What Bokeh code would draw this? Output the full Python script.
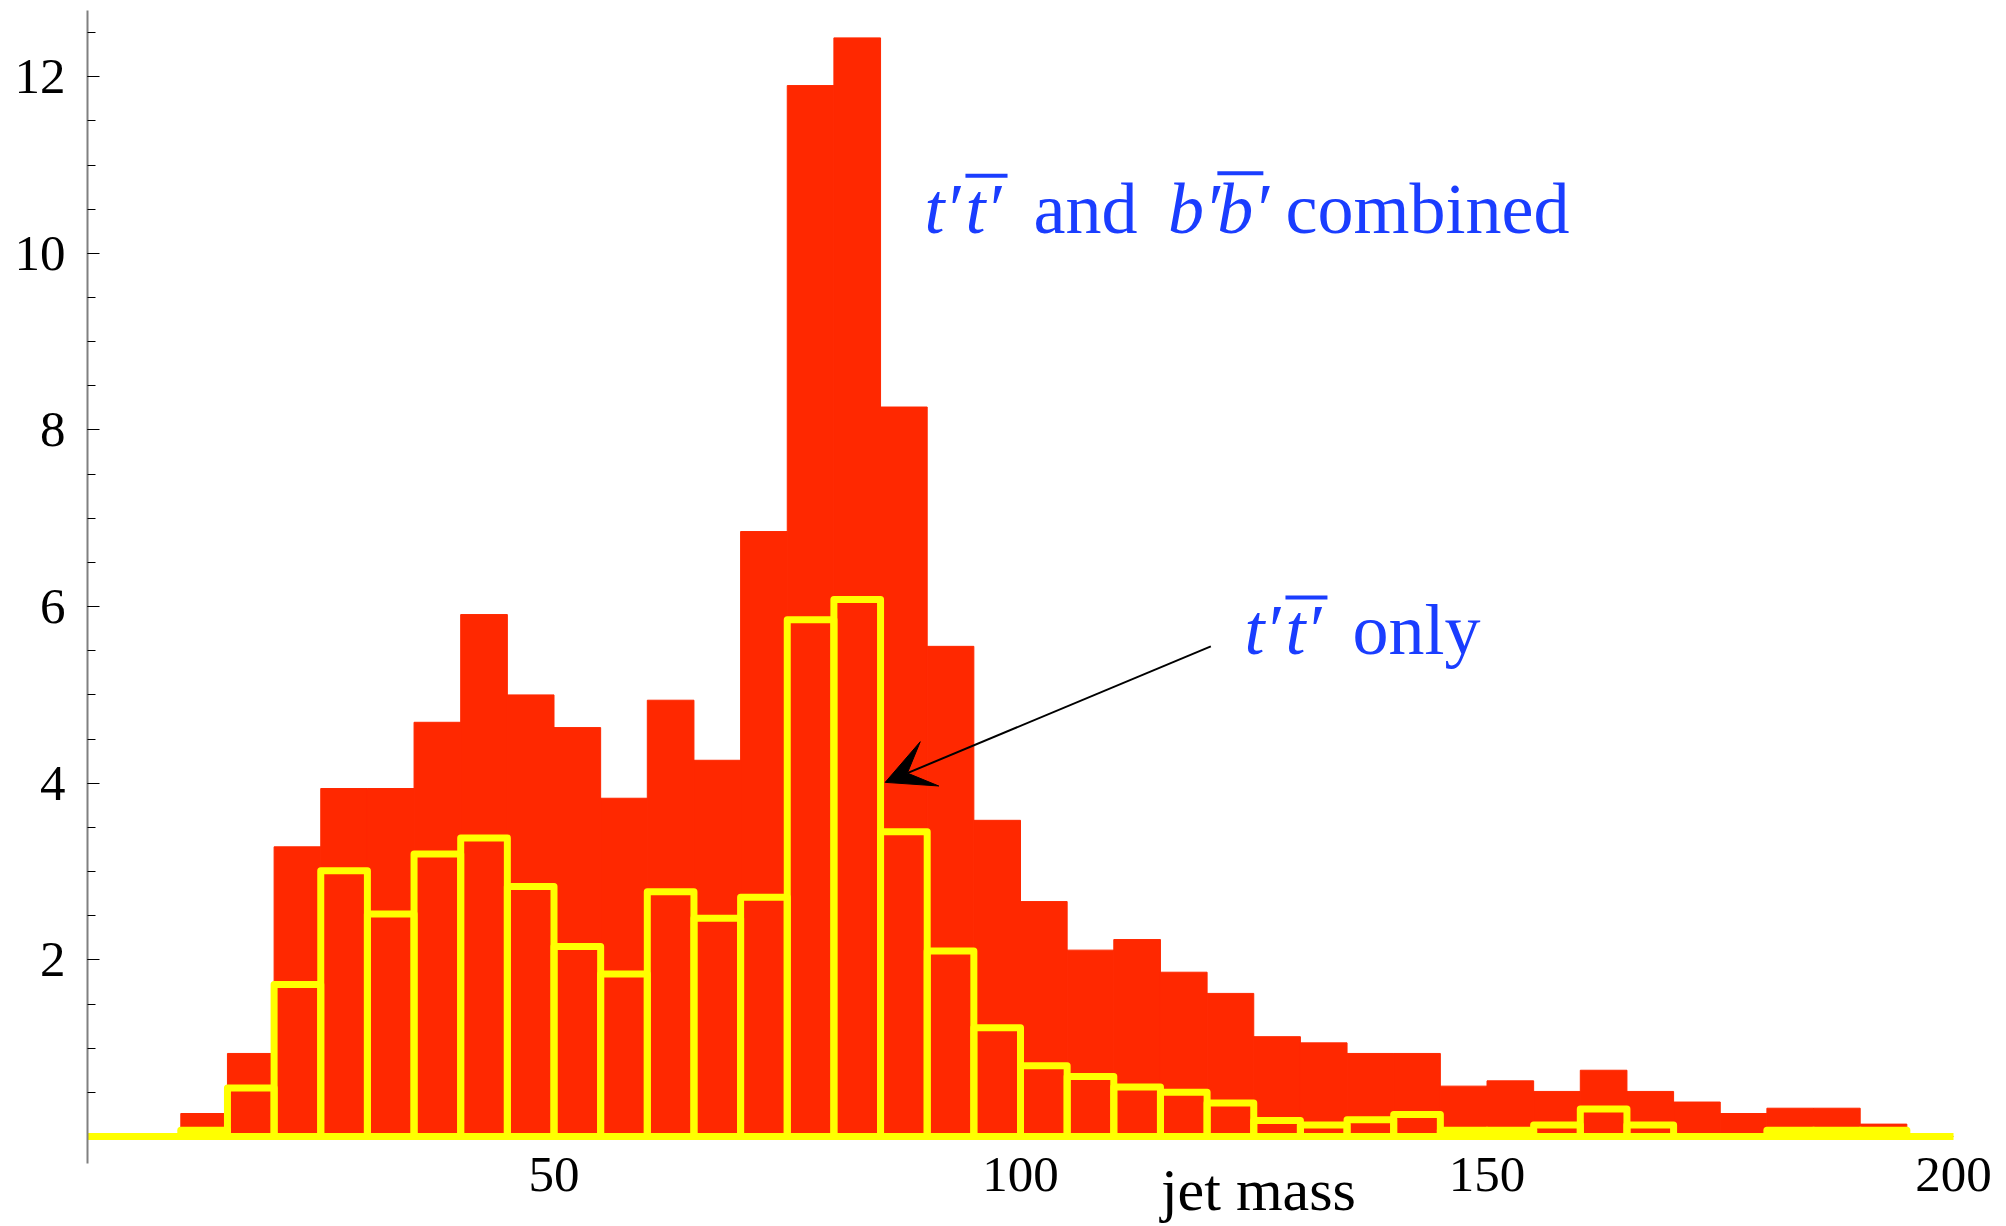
from bokeh.plotting import figure
from bokeh.models import Label, Arrow, VeeHead, FixedTicker, Range1d, LinearAxis
from bokeh.embed import file_html
from bokeh.resources import INLINE

# ---- data ----
bin_edges = [0, 5, 10, 15, 20, 25, 30, 35, 40, 45, 50, 55, 60, 65, 70, 75, 80, 85, 90, 95,
             100, 105, 110, 115, 120, 125, 130, 135, 140, 145, 150, 155, 160, 165, 170, 175,
             180, 185, 190, 195, 200]
combined = [0, 0, 0.26, 0.94, 3.28, 3.94, 3.94, 4.69, 5.91, 5.00,
            4.63, 3.83, 4.94, 4.26, 6.85, 11.90, 12.44, 8.26, 5.55, 3.58,
            2.66, 2.11, 2.23, 1.86, 1.62, 1.13, 1.06, 0.94, 0.94, 0.57,
            0.63, 0.51, 0.75, 0.51, 0.39, 0.26, 0.32, 0.32, 0.14, 0]
tt_only = [0, 0, 0.07, 0.55, 1.72, 3.01, 2.52, 3.20, 3.38, 2.83,
           2.15, 1.84, 2.77, 2.47, 2.71, 5.85, 6.08, 3.45, 2.10, 1.23,
           0.80, 0.68, 0.56, 0.50, 0.38, 0.18, 0.13, 0.19, 0.25, 0.07,
           0.07, 0.13, 0.31, 0.13, 0.0, 0, 0.07, 0.07, 0.07, 0]
x_ticks = [50, 100, 150, 200]
y_ticks = [2, 4, 6, 8, 10, 12]
y_minor = [0.5, 1, 1.5, 2, 2.5, 3, 3.5, 4, 4.5, 5, 5.5, 6, 6.5, 7, 7.5, 8, 8.5, 9, 9.5,
           10, 10.5, 11, 11.5, 12, 12.5]
x_title = "jet mass"
x_title_pos = 125.5

lefts = bin_edges[:-1]
rights = bin_edges[1:]

RED = "#ff2800"
YELLOW = "#ffff00"
BLUE = "#1a3dff"
SERIF = "Liberation Serif"

p = figure(width=2006, height=1226, output_backend="svg", toolbar_location=None,
           x_range=Range1d(0, 200), y_range=Range1d(-0.306, 12.75),
           min_border_left=87, min_border_right=53, min_border_top=10, min_border_bottom=63)
p.grid.visible = False
p.outline_line_color = None
p.background_fill_color = "white"
p.border_fill_color = "white"

# y axis
p.yaxis.ticker = FixedTicker(ticks=y_ticks, minor_ticks=y_minor)
p.yaxis.axis_line_color = "#808080"
p.yaxis.axis_line_width = 2
p.yaxis.major_tick_line_color = "black"
p.yaxis.minor_tick_line_color = "black"
p.yaxis.major_tick_in = 12
p.yaxis.major_tick_out = 0
p.yaxis.minor_tick_in = 8
p.yaxis.minor_tick_out = 0
p.yaxis.major_label_text_font = SERIF
p.yaxis.major_label_text_font_size = "51px"
p.yaxis.major_label_text_color = "black"
p.yaxis.major_label_standoff = 22

# x axis
p.xaxis.ticker = FixedTicker(ticks=x_ticks, minor_ticks=[])
p.xaxis.axis_line_color = None
p.xaxis.major_tick_line_color = None
p.xaxis.minor_tick_line_color = None
p.xaxis.major_label_text_font = SERIF
p.xaxis.major_label_text_font_size = "51px"
p.xaxis.major_label_text_color = "black"
p.xaxis.major_label_standoff = -12

# second bottom axis only carrying the "jet mass" title
title_axis = LinearAxis(ticker=FixedTicker(ticks=[x_title_pos], minor_ticks=[]),
                        major_label_overrides={x_title_pos: x_title})
title_axis.axis_line_color = None
title_axis.major_tick_line_color = None
title_axis.minor_tick_line_color = None
title_axis.major_label_text_font = SERIF
title_axis.major_label_text_font_size = "60px"
title_axis.major_label_text_color = "black"
title_axis.major_label_standoff = -43
p.add_layout(title_axis, "below")

# histograms
p.quad(left=lefts, right=rights, bottom=0, top=combined,
       fill_color=RED, line_color=RED, line_width=1)
p.quad(left=lefts, right=rights, bottom=0, top=tt_only,
       fill_color=None, line_color=YELLOW, line_width=7, line_join="round")

# annotations
def piece(x, y, t, italic):
    p.add_layout(Label(x=x, y=y, text=t, text_font=SERIF, text_font_size="72px",
                       text_color=BLUE, text_baseline="alphabetic", text_align="left",
                       text_font_style="italic" if italic else "normal"))

y1 = 10.505
piece(89.71, y1, "t\u2032", True)
piece(94.10, y1, "t\u2032", True)
piece(101.39, y1, "and", False)
piece(115.80, y1, "b\u2032", True)
piece(121.10, y1, "b\u2032", True)
piece(128.40, y1, "combined", False)

y2 = 5.737
piece(124.01, y2, "t\u2032", True)
piece(128.40, y2, "t\u2032", True)
piece(135.58, y2, "only", False)

p.segment(x0=[94.10, 121.10, 128.40], x1=[98.61, 126.03, 132.90],
          y0=[10.88, 10.906, 6.104], y1=[10.88, 10.906, 6.104],
          line_color=BLUE, line_width=4)

p.add_layout(Arrow(end=VeeHead(size=48, fill_color="black", line_color="black"),
                   x_start=120.4, y_start=5.55, x_end=85.5, y_end=4.01,
                   line_color="black", line_width=2))

open("out.html", "w").write(file_html(p, INLINE))
